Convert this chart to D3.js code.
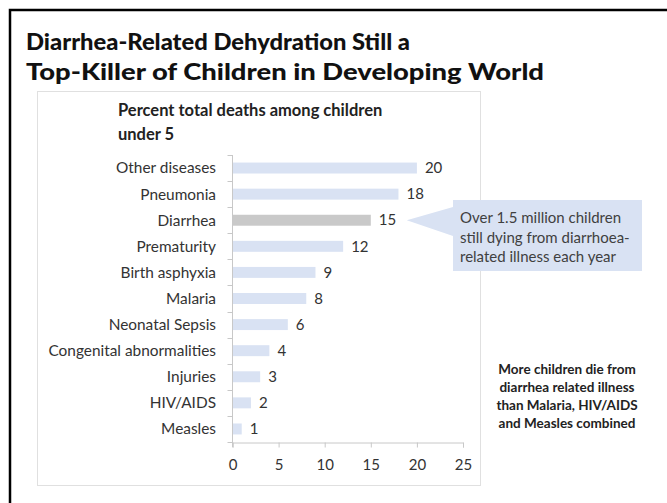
<!DOCTYPE html>
<html>
<head>
<meta charset="utf-8">
<script src="https://cdn.jsdelivr.net/npm/d3@7"></script>
<style>
  body { margin: 0; background: #fff; }
  svg text { font-family: Lato, "Open Sans", sans-serif; }
</style>
</head>
<body>
<div id="chart"></div>
<script>
const titleLines = ["Diarrhea-Related Dehydration Still a", "Top-Killer of Children in Developing World"];
const titleWidths = [384, 518];
const subtitleLines = ["Percent total deaths among children", "under 5"];
const causes = ["Other diseases", "Pneumonia", "Diarrhea", "Prematurity", "Birth asphyxia", "Malaria",
  "Neonatal Sepsis", "Congenital abnormalities", "Injuries", "HIV/AIDS", "Measles"];
const percents = [20, 18, 15, 12, 9, 8, 6, 4, 3, 2, 1];
const xTicks = [0, 5, 10, 15, 20, 25];
const calloutLines = ["Over 1.5 million children", "still dying from diarrhoea-", "related illness each year"];
const noteLines = ["More children die from", "diarrhea related illness", "than Malaria, HIV/AIDS", "and Measles combined"];
const highlight = "Diarrhea";

const width = 667, height = 503;
const svg = d3.select("#chart").append("svg")
  .attr("width", width).attr("height", height);

const data = causes.map((c, i) => ({ cause: c, value: percents[i] }));

// outer frame (top + left only, runs off the page)
svg.append("path")
  .attr("d", `M10,${height} V10 H${width}`)
  .attr("fill", "none").attr("stroke", "#000").attr("stroke-width", 2.5);

svg.selectAll("text.title").data(titleLines).enter().append("text")
  .attr("class", "title")
  .attr("x", 26).attr("y", (d, i) => 50 + i * 30)
  .attr("font-size", 23).attr("font-weight", 900).attr("fill", "#111")
  .attr("textLength", (d, i) => titleWidths[i]).attr("lengthAdjust", "spacingAndGlyphs")
  .text(d => d);

// chart panel
svg.append("rect")
  .attr("x", 37.5).attr("y", 91.5).attr("width", 443).attr("height", 394)
  .attr("fill", "#fff").attr("stroke", "#e0e0e0");

svg.selectAll("text.sub").data(subtitleLines).enter().append("text")
  .attr("class", "sub")
  .attr("x", 118).attr("y", (d, i) => 116 + i * 24)
  .attr("font-size", 16.5).attr("font-weight", 700).attr("fill", "#222")
  .text(d => d);

const x = d3.scaleLinear().domain([0, 25]).range([232.5, 463]);
const y = d3.scaleBand().domain(causes).range([155, 442]).paddingInner(0.58).paddingOuter(0.29);

const axisColor = "#c8c8c8";

// x axis
const gx = svg.append("g").attr("transform", "translate(0,442.5)")
  .call(d3.axisBottom(x).tickValues(xTicks).tickSize(5).tickPadding(12));
gx.select(".domain").attr("stroke", axisColor);
gx.selectAll(".tick line").attr("stroke", axisColor);
gx.selectAll(".tick text").attr("font-size", 15).attr("fill", "#333")
  .attr("font-family", "Lato, sans-serif");

// y axis line and between-category ticks
svg.append("line")
  .attr("x1", x(0)).attr("x2", x(0)).attr("y1", 155).attr("y2", 447)
  .attr("stroke", axisColor);
const step = y.step();
const bounds = causes.map(c => y(c) - y.paddingOuter() * step).concat([442]);
svg.selectAll("line.ytick").data(bounds).enter().append("line")
  .attr("class", "ytick")
  .attr("x1", x(0) - 5).attr("x2", x(0))
  .attr("y1", d => Math.round(d) + 0.5).attr("y2", d => Math.round(d) + 0.5)
  .attr("stroke", axisColor);

// category labels
svg.selectAll("text.cat").data(data).enter().append("text")
  .attr("class", "cat")
  .attr("x", 216).attr("y", d => y(d.cause) + y.bandwidth() / 2)
  .attr("dy", "0.35em").attr("text-anchor", "end")
  .attr("font-size", 15.4).attr("fill", "#333")
  .text(d => d.cause);

// bars
svg.selectAll("rect.bar").data(data).enter().append("rect")
  .attr("class", "bar")
  .attr("x", x(0) + 0.5).attr("y", d => y(d.cause))
  .attr("width", d => x(d.value) - x(0) - 0.5).attr("height", y.bandwidth())
  .attr("fill", d => d.cause === highlight ? "#c9c9c9" : "#d9e2f3");

svg.selectAll("text.val").data(data).enter().append("text")
  .attr("class", "val")
  .attr("x", d => x(d.value) + 8).attr("y", d => y(d.cause) + y.bandwidth() / 2)
  .attr("dy", "0.35em")
  .attr("font-size", 15).attr("fill", "#333")
  .text(d => d.value);

// callout
const hy = y(highlight) + y.bandwidth() / 2;
const tipX = x(percents[causes.indexOf(highlight)]) + 36;
svg.append("path")
  .attr("d", `M${tipX},${hy} L453,207 V200 H642 V271 H453 V236 Z`)
  .attr("fill", "#d9e2f3");
svg.selectAll("text.callout").data(calloutLines).enter().append("text")
  .attr("class", "callout")
  .attr("x", 460).attr("y", (d, i) => 223 + i * 19.5)
  .attr("font-size", 15).attr("fill", "#404040")
  .text(d => d);

// side note
svg.selectAll("text.note").data(noteLines).enter().append("text")
  .attr("class", "note")
  .attr("x", 567).attr("y", (d, i) => 374 + i * 18)
  .attr("text-anchor", "middle")
  .attr("font-size", 13.5).attr("font-weight", 700).attr("fill", "#222")
  .text(d => d);
</script>
</body>
</html>
